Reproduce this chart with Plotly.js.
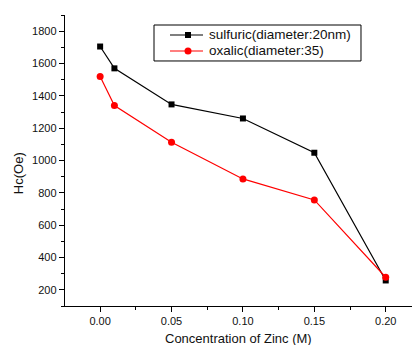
<!DOCTYPE html>
<html>
<head>
<meta charset="utf-8">
<script src="https://cdn.plot.ly/plotly-3.0.1.min.js"></script>
<style>html,body{margin:0;padding:0;background:#fff;}#chart{width:412px;height:345px;}</style>
</head>
<body>
<div id="chart"></div>
<script>
var concentration = [0.00, 0.01, 0.05, 0.10, 0.15, 0.20];
var sulfuricHc = [1705, 1570, 1347, 1260, 1048, 258];
var oxalicHc = [1520, 1340, 1113, 886, 756, 278];
var seriesNames = ["sulfuric(diameter:20nm)", "oxalic(diameter:35)"];
var seriesColors = ["#000000", "#ff0000"];
var xTickVals = [0.00, 0.05, 0.10, 0.15, 0.20];
var xTickText = ["0.00", "0.05", "0.10", "0.15", "0.20"];
var yTickVals = [200, 400, 600, 800, 1000, 1200, 1400, 1600, 1800];

var font = {family: "Liberation Sans, Arial, sans-serif", color: "#111"};

var traces = [
  {x: concentration, y: sulfuricHc, name: seriesNames[0], type: "scatter", mode: "lines+markers",
   line: {color: seriesColors[0], width: 1.2}, marker: {symbol: "square", size: 6, color: seriesColors[0]}},
  {x: concentration, y: oxalicHc, name: seriesNames[1], type: "scatter", mode: "lines+markers",
   line: {color: seriesColors[1], width: 1.2}, marker: {symbol: "circle", size: 7, color: seriesColors[1]}}
];

// Custom legend (compact, Origin-style)
var lg = {x0: 0.2565, x1: 0.853, y0: 0.842, y1: 0.9656,
  rows: [0.9313, 0.8763], lineX0: 0.3026, lineX1: 0.3977, markX: 0.3545, textX: 0.4121};
var shapes = [{type: "rect", xref: "paper", yref: "paper", x0: lg.x0, x1: lg.x1, y0: lg.y0, y1: lg.y1,
  line: {color: "#000", width: 1}, fillcolor: "#fff", layer: "above"}];
var annotations = [];
seriesNames.forEach(function (nm, i) {
  var yy = lg.rows[i];
  shapes.push({type: "line", xref: "paper", yref: "paper", x0: lg.lineX0, x1: lg.lineX1, y0: yy, y1: yy,
    line: {color: seriesColors[i], width: 1.2}, layer: "above"});
  shapes.push({type: i === 0 ? "rect" : "circle", xref: "paper", yref: "paper",
    xsizemode: "pixel", ysizemode: "pixel", xanchor: lg.markX, yanchor: yy,
    x0: i === 0 ? -3 : -3.5, x1: i === 0 ? 3 : 3.5, y0: i === 0 ? -3 : -3.5, y1: i === 0 ? 3 : 3.5,
    line: {color: seriesColors[i], width: 0}, fillcolor: seriesColors[i], layer: "above"});
  annotations.push({text: nm, xref: "paper", yref: "paper", x: lg.textX, y: yy, xanchor: "left", yanchor: "middle",
    showarrow: false, borderpad: 0, font: Object.assign({size: 13.5}, font)});
});
annotations.push({text: "Hc(Oe)", xref: "paper", yref: "paper", x: -0.135, y: 0.457,
  xanchor: "center", yanchor: "middle", textangle: -90, showarrow: false,
  font: Object.assign({size: 13}, font)});
annotations.push({text: "Concentration of Zinc (M)", xref: "paper", yref: "paper", x: 0.5, y: -0.112,
  xanchor: "center", yanchor: "middle", showarrow: false, borderpad: 0,
  font: Object.assign({size: 13}, font)});

var layout = {
  width: 412, height: 345,
  margin: {l: 65, r: 0, t: 15, b: 39},
  paper_bgcolor: "#fff", plot_bgcolor: "#fff",
  font: Object.assign({size: 11}, font),
  showlegend: false,
  xaxis: {range: [-0.0246, 0.2184], showgrid: false, zeroline: false,
    showline: true, linecolor: "#000", linewidth: 1.2,
    ticks: "outside", ticklen: 5, tickwidth: 1, tickcolor: "#000",
    tickvals: xTickVals, ticktext: xTickText,
    minor: {dtick: 0.025, tick0: 0, ticks: "outside", ticklen: 3, tickcolor: "#000", showgrid: false},
    tickfont: Object.assign({size: 11}, font)},
  yaxis: {range: [100, 1900], showgrid: false, zeroline: false,
    showline: true, linecolor: "#000", linewidth: 1.2,
    ticks: "outside", ticklen: 5, tickwidth: 1, tickcolor: "#000",
    tickvals: yTickVals,
    minor: {dtick: 100, tick0: 100, ticks: "outside", ticklen: 3, tickcolor: "#000", showgrid: false},
    tickfont: Object.assign({size: 11}, font)},
  shapes: shapes,
  annotations: annotations
};

Plotly.newPlot("chart", traces, layout, {displayModeBar: false, staticPlot: true});
</script>
</body>
</html>
